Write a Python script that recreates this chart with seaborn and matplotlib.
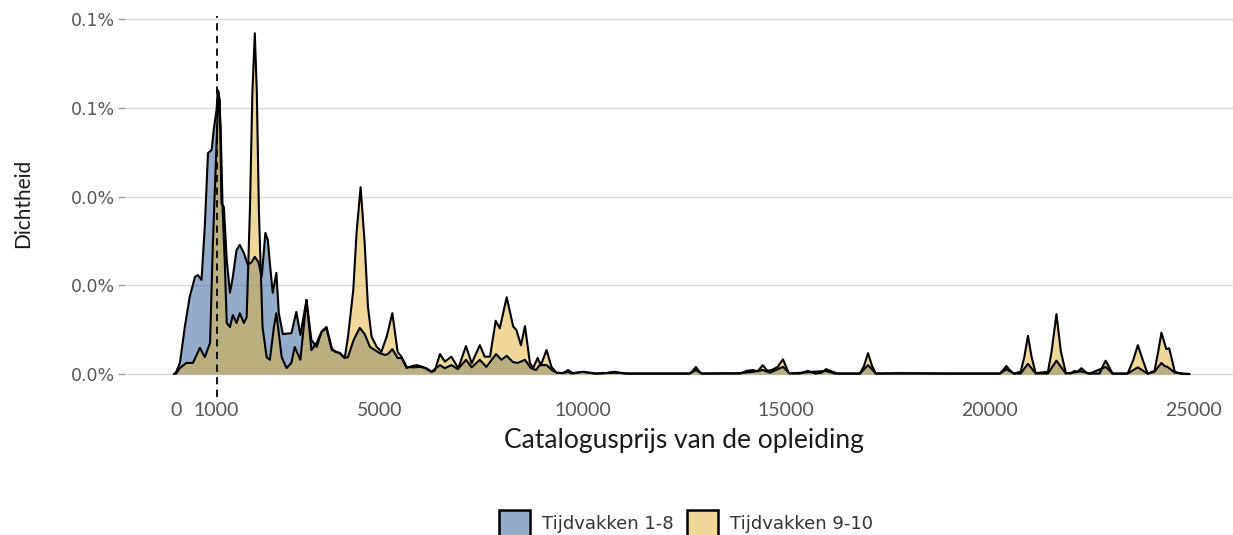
from __future__ import annotations

import matplotlib
import matplotlib.pyplot as plt
import seaborn as sns
from matplotlib.colors import to_rgba
from matplotlib.patches import Patch
from matplotlib.ticker import PercentFormatter


matplotlib.use("Agg")


OUTPUT_PATH = "out.png"

LABEL_1_8 = "Tijdvakken 1-8"
LABEL_9_10 = "Tijdvakken 9-10"
BLUE = "#2D5D97"
TAN = "#E1B237"

X_TICKS = [0, 1000, 5000, 10000, 15000, 20000, 25000]
Y_TICKS = [0, 0.0002, 0.0004, 0.0006, 0.0008]
MEDIAN_LINE = 1000

# catalogusprijs (euro) en dichtheid
price_1_8 = [
    -50, 0, 100, 220, 340, 470, 540, 630, 710, 790,
    880, 930, 1000, 1030, 1080, 1120, 1180, 1250, 1330, 1400,
    1490, 1570, 1670, 1770, 1860, 1940, 2030, 2110, 2200, 2260,
    2310, 2380, 2470, 2530, 2630, 2840, 2960, 3060, 3210, 3330,
    3460, 3580, 3700, 3830, 3910, 4030, 4150, 4230, 4370, 4520,
    4640, 4770, 4890, 5010, 5140, 5210, 5320, 5450, 5550, 5670,
    5820, 5920, 6070, 6280, 6490, 6610, 6770, 6930, 7130, 7270,
    7470, 7630, 7870, 8000, 8130, 8280, 8400, 8580, 8720, 8850,
    8940, 9110, 9240, 9360, 9510, 9630, 9750, 10000, 10300, 10790,
    11150, 11650, 12630, 12780, 12920, 13860, 14180, 14420, 14600, 14920,
    15090, 15970, 16190, 16810, 17010, 17200, 20250, 20410, 20590, 20760,
    20940, 21130, 21430, 21640, 21870, 22240, 22460, 22850, 23020, 23390,
    23640, 23880, 24050, 24220, 24300, 24370, 24550, 24910,
]
density_1_8 = [
    0, 0.0000034, 0.000025, 0.000106, 0.000174, 0.000219, 0.000223, 0.000212, 0.000331, 0.000498,
    0.000505, 0.000550, 0.000595, 0.000640, 0.000617, 0.000385, 0.000376, 0.000257, 0.000183, 0.000219,
    0.000279, 0.000291, 0.000273, 0.000246, 0.000252, 0.000264, 0.000252, 0.000219, 0.000318, 0.000302,
    0.000250, 0.000183, 0.000228, 0.000137, 0.000090, 0.000092, 0.000140, 0.000088, 0.000167, 0.000077,
    0.000061, 0.000095, 0.000106, 0.000059, 0.000050, 0.000047, 0.000036, 0.000038, 0.000077, 0.000104,
    0.000090, 0.000061, 0.000054, 0.000047, 0.000043, 0.000045, 0.000056, 0.000036, 0.000036, 0.0000135,
    0.000018, 0.000020, 0.000016, 0.000005, 0.000020, 0.000013, 0.000020, 0.000011, 0.000032, 0.000015,
    0.000032, 0.000016, 0.000045, 0.000032, 0.000041, 0.000027, 0.000025, 0.000032, 0.0000135, 0.000009,
    0.000020, 0.000020, 0.000009, 0.000003, 0.000002, 0.000005, 0.000001, 0.000005, 0.000001, 0.000003,
    0.000001, 0.000001, 0.000001, 0.000009, 0.000001, 0.000002, 0.000005, 0.000009, 0.000003, 0.000016,
    0.000001, 0.000007, 0.000001, 0.000001, 0.000020, 0.000001, 0.000001, 0.000011, 0.000001, 0.000001,
    0.000023, 0.000001, 0.000001, 0.000030, 0.000001, 0.000006, 0.000001, 0.000016, 0.000001, 0.000001,
    0.000015, 0.000001, 0.000005, 0.000025, 0.000018, 0.000016, 0.000003, 0,
]

price_9_10 = [
    0, 100, 260, 420, 590, 710, 840, 910, 1000, 1050,
    1100, 1150, 1200, 1250, 1330, 1400, 1490, 1570, 1670, 1740,
    1820, 1880, 1940, 1990, 2040, 2130, 2230, 2310, 2410, 2470,
    2600, 2720, 2840, 2920, 3060, 3210, 3330, 3460, 3580, 3700,
    3830, 3950, 4030, 4150, 4230, 4360, 4440, 4540, 4640, 4720,
    4810, 4930, 5050, 5180, 5320, 5450, 5550, 5670, 5830, 6000,
    6160, 6280, 6360, 6490, 6610, 6770, 6940, 7130, 7270, 7470,
    7590, 7720, 7860, 7960, 8130, 8290, 8370, 8480, 8580, 8700,
    8780, 8890, 8970, 9110, 9230, 9350, 9510, 9640, 9750, 10000,
    10300, 10540, 10790, 11030, 12630, 12700, 12780, 12850, 12920, 13860,
    14030, 14180, 14300, 14420, 14540, 14640, 14790, 14920, 15060, 15330,
    15530, 15720, 15870, 15980, 16140, 16270, 16810, 16910, 17010, 17110,
    17200, 17790, 19020, 20250, 20330, 20410, 20490, 20590, 20760, 20850,
    20940, 21030, 21130, 21430, 21520, 21640, 21750, 21870, 21990, 22080,
    22160, 22250, 22410, 22700, 22780, 22850, 22920, 23020, 23390, 23530,
    23640, 23760, 23880, 24050, 24140, 24220, 24340, 24410, 24550, 24720,
    24910,
]
density_9_10 = [
    0, 0.0000135, 0.000025, 0.000025, 0.000059, 0.000038, 0.000070, 0.000295, 0.000521, 0.000636,
    0.000557, 0.000370, 0.000257, 0.000115, 0.000106, 0.000133, 0.000115, 0.000137, 0.000115, 0.000128,
    0.000370, 0.000633, 0.000768, 0.000633, 0.000370, 0.000106, 0.000038, 0.000032, 0.000106, 0.000137,
    0.000038, 0.0000135, 0.000025, 0.000061, 0.000032, 0.000167, 0.000054, 0.000070, 0.000095, 0.000104,
    0.000054, 0.000050, 0.000047, 0.000036, 0.000084, 0.000189, 0.000318, 0.000421, 0.000295, 0.000152,
    0.000084, 0.000062, 0.000050, 0.000084, 0.000137, 0.000050, 0.000038, 0.000016, 0.000015, 0.000016,
    0.000013, 0.000005, 0.000007, 0.000045, 0.000028, 0.000039, 0.000013, 0.000063, 0.000024, 0.000065,
    0.000039, 0.000039, 0.000120, 0.000103, 0.000173, 0.000107, 0.000099, 0.000065, 0.000108, 0.000025,
    0.0000135, 0.000036, 0.000020, 0.000054, 0.000016, 0.000003, 0.000002, 0.000009, 0.000002, 0.000005,
    0.000001, 0.000002, 0.000005, 0.000001, 0.000001, 0.000007, 0.000016, 0.000007, 0.000001, 0.000001,
    0.000007, 0.000009, 0.000006, 0.000020, 0.000007, 0.000009, 0.000016, 0.000033, 0.000002, 0.000001,
    0.000007, 0.000001, 0.000003, 0.000011, 0.000005, 0.000001, 0.000001, 0.000018, 0.000047, 0.000018,
    0.000001, 0.000002, 0.000001, 0.000001, 0.000009, 0.000018, 0.000009, 0.000001, 0.000005, 0.000038,
    0.000086, 0.000038, 0.000002, 0.000005, 0.000050, 0.000135, 0.000050, 0.000003, 0.000001, 0.000007,
    0.000005, 0.000013, 0.000001, 0.000001, 0.000018, 0.000030, 0.000018, 0.000001, 0.000001, 0.000032,
    0.000065, 0.000032, 0.000001, 0.000007, 0.000050, 0.000093, 0.000056, 0.000058, 0.000005, 0,
    0,
]


def draw_density(ax, price: list[float], density: list[float], color: str) -> None:
    ax.fill_between(price, density, 0, color=color, alpha=0.5, linewidth=0, zorder=2)
    sns.lineplot(
        x=price,
        y=density,
        ax=ax,
        color="black",
        linewidth=1.5,
        estimator=None,
        sort=False,
        zorder=3,
    )


def main() -> None:
    assert len(price_1_8) == len(density_1_8)
    assert len(price_9_10) == len(density_9_10)

    sns.set_theme(style="white")
    plt.rcParams["font.family"] = ["DejaVu Sans"]

    fig = plt.figure(figsize=(12.33, 5.35), dpi=100)
    ax = fig.add_axes([0.10138, 0.26916, 0.90592, 0.70093])

    draw_density(ax, price_1_8, density_1_8, BLUE)
    draw_density(ax, price_9_10, density_9_10, TAN)

    ax.axvline(
        MEDIAN_LINE,
        ymin=-0.016,
        ymax=1.0,
        color="black",
        linewidth=1.3,
        linestyle=(0, (4, 3)),
        clip_on=False,
        zorder=4,
    )

    ax.set_xlim(-1250, 26200)
    ax.set_ylim(-0.0000383, 0.0008068)
    ax.set_xticks(X_TICKS)
    ax.set_xticklabels([str(t) for t in X_TICKS])
    ax.set_yticks(Y_TICKS)
    ax.yaxis.set_major_formatter(PercentFormatter(xmax=1, decimals=1))

    ax.yaxis.grid(True, color="#DADADA", linewidth=1)
    ax.xaxis.grid(False)
    ax.set_axisbelow(True)
    for spine in ax.spines.values():
        spine.set_visible(False)

    ax.tick_params(axis="x", length=5, width=1, color="#A0A0A0", pad=3,
                   labelsize=14, labelcolor="#555555")
    ax.tick_params(axis="y", left=True, length=5, width=1, color="#A0A0A0", pad=2,
                   labelsize=12.5, labelcolor="#555555")
    for label in ax.get_xticklabels():
        label.set_fontfamily("Lato")

    ax.set_xlabel("Catalogusprijs van de opleiding", fontsize=19, family="Lato", color="#1A1A1A")
    ax.xaxis.set_label_coords(0.5, -0.10)
    ax.set_ylabel("Dichtheid", fontsize=15, family="Lato", color="#1A1A1A")
    ax.yaxis.set_label_coords(-0.0824, 0.5)

    handles = [
        Patch(facecolor=to_rgba(BLUE, 0.5), edgecolor="black", linewidth=1.8),
        Patch(facecolor=to_rgba(TAN, 0.5), edgecolor="black", linewidth=1.8),
    ]
    fig.legend(
        handles,
        [LABEL_1_8, LABEL_9_10],
        loc="center",
        bbox_to_anchor=(686 / 1233, 12 / 535),
        ncol=2,
        frameon=False,
        fontsize=13,
        handlelength=1.72,
        handleheight=1.9,
        handletextpad=0.7,
        columnspacing=0.7,
        labelcolor="#333333",
    )

    fig.savefig(OUTPUT_PATH, dpi=100)
    plt.close(fig)


if __name__ == "__main__":
    main()
